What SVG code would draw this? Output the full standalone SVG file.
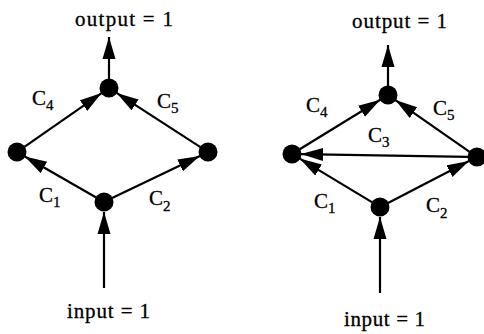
<svg xmlns="http://www.w3.org/2000/svg" width="484" height="334" viewBox="0 0 484 334">
<defs>
<style>
.edge{stroke:#000;stroke-width:2.2;fill:none;marker-end:url(#ah)}
.node{fill:#000}
.t{font-family:"Liberation Serif","Times New Roman",serif;font-size:21px;fill:#000;stroke:#000;stroke-width:0.3}
.c{font-family:"Liberation Serif","Times New Roman",serif;font-size:21px;fill:#000;stroke:#000;stroke-width:0.3}
.s{font-size:15px}
</style>
<marker id="ah" markerUnits="userSpaceOnUse" markerWidth="24" markerHeight="15" refX="22" refY="7" orient="auto">
<path d="M0,0.5 L22,7 L0,13.5 Z" fill="#000"/>
</marker>
</defs>
<rect width="484" height="334" fill="#fff"/>
<g id="connectors">
<line class="edge" x1="109" y1="80" x2="109" y2="37"/>
<line class="edge" x1="104" y1="288" x2="104" y2="212"/>
<line class="edge" x1="96.2" y1="197.5" x2="24.8" y2="156.5"/>
<line class="edge" x1="112.1" y1="198.1" x2="199.9" y2="155.9"/>
<line class="edge" x1="24.4" y1="146.9" x2="101.6" y2="93.1"/>
<line class="edge" x1="200.4" y1="147.1" x2="116.6" y2="92.9"/>
<line class="edge" x1="388" y1="87" x2="388" y2="45"/>
<line class="edge" x1="380" y1="293" x2="380" y2="217"/>
<line class="edge" x1="372.3" y1="202.4" x2="299.7" y2="158.6"/>
<line class="edge" x1="388" y1="202.9" x2="469" y2="161.1"/>
<line class="edge" x1="468" y1="156.9" x2="301" y2="154.1"/>
<line class="edge" x1="299.7" y1="149.3" x2="380.3" y2="99.7"/>
<line class="edge" x1="469.6" y1="151.9" x2="395.4" y2="100.1"/>
</g>
<g id="left-top"><circle class="node" cx="109" cy="88" r="9.5"/></g>
<g id="left-left"><circle class="node" cx="17" cy="152" r="9.5"/></g>
<g id="left-right"><circle class="node" cx="208" cy="152" r="9.5"/></g>
<g id="left-bottom"><circle class="node" cx="104" cy="202" r="9.5"/></g>
<g id="right-top"><circle class="node" cx="388" cy="95" r="9.5"/></g>
<g id="right-left"><circle class="node" cx="292" cy="154" r="9.5"/></g>
<g id="right-right"><circle class="node" cx="477" cy="157" r="9.5"/></g>
<g id="right-bottom"><circle class="node" cx="380" cy="207" r="9.5"/></g>
<g id="labels">
<text class="t" x="75" y="26" textLength="98" lengthAdjust="spacing">output = 1</text>
<text class="t" x="67" y="318" textLength="83" lengthAdjust="spacing">input = 1</text>
<text class="t" x="352" y="28" textLength="95" lengthAdjust="spacing">output = 1</text>
<text class="t" x="344" y="326" textLength="81" lengthAdjust="spacing">input = 1</text>
<text class="c" x="32" y="105">C<tspan class="s" dy="5">4</tspan></text>
<text class="c" x="157" y="108">C<tspan class="s" dy="5">5</tspan></text>
<text class="c" x="39" y="202">C<tspan class="s" dy="5">1</tspan></text>
<text class="c" x="149" y="205">C<tspan class="s" dy="6">2</tspan></text>
<text class="c" x="306" y="112">C<tspan class="s" dy="5">4</tspan></text>
<text class="c" x="433" y="115">C<tspan class="s" dy="5">5</tspan></text>
<text class="c" x="368" y="142">C<tspan class="s" dy="5">3</tspan></text>
<text class="c" x="314" y="208">C<tspan class="s" dy="5">1</tspan></text>
<text class="c" x="426" y="212">C<tspan class="s" dy="6">2</tspan></text>
</g>
</svg>
